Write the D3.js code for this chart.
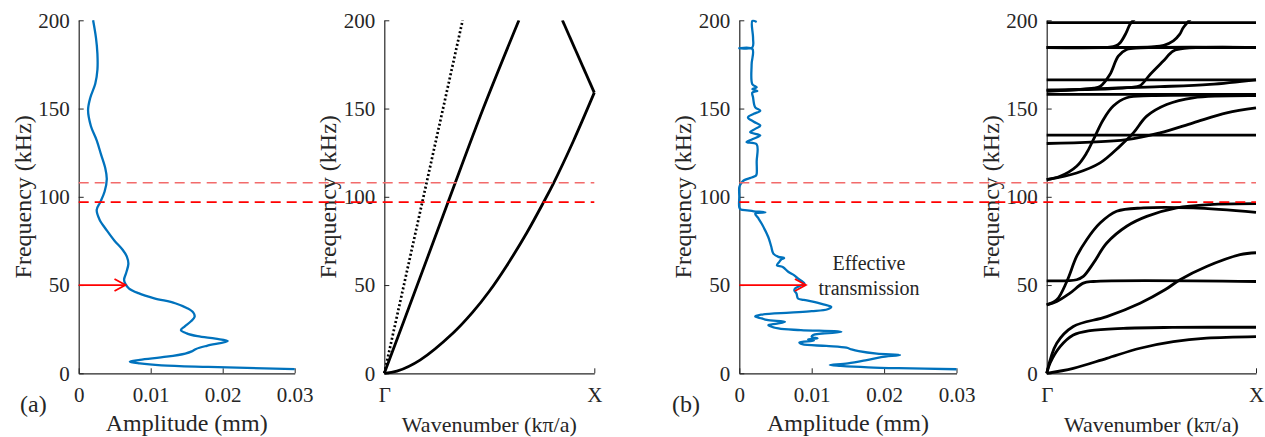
<!DOCTYPE html>
<html lang="en">
<head>
  <meta charset="UTF-8">
  <title>Transmission and band structure</title>
  <script src="https://d3js.org/d3.v7.min.js"></script>
  <style>
    body { margin: 0; background: #fff; }
    svg { display: block; }
    svg text { font-family: "Liberation Serif", "Times New Roman", serif !important; fill: #262626; }
    .domain, .tick line { stroke: #262626; }
  </style>
</head>
<body>
  <svg width="1265" height="437"></svg>

  <script>
    // ---- data ----
    const freqTicks = [0, 50, 100, 150, 200];
    const ampTicks = [0, 0.01, 0.02, 0.03];
    const kTicks = [0, 1];
    const kLabels = ["Γ", "X"];
    const gapEdges = [97, 108];           // band gap limits (kHz)
    const arrowFreq = 50;
    const arrowAmpA = 0.0065;
    const arrowAmpB = 0.0092;

    // (a) amplitude of the homogeneous plate: [freq kHz, amp mm]
    const ampA = [
      [2.4, 0.030], [3.6, 0.018], [4.5, 0.0115], [5.6, 0.0085], [6.6, 0.0071], [7.6, 0.0085],
      [9.4, 0.0122], [11.2, 0.0148], [12.4, 0.0157], [13.8, 0.0163], [15.6, 0.0178],
      [18.3, 0.0207], [19.6, 0.0190], [21.0, 0.0165], [22.6, 0.0150], [24.5, 0.0142],
      [26.5, 0.0147], [29.5, 0.0156], [32, 0.0161], [34.5, 0.0159], [37, 0.0150],
      [39.7, 0.0134], [42.5, 0.0105], [45.4, 0.0083], [48, 0.0070], [50.5, 0.0065],
      [53, 0.0063], [57, 0.0066], [62, 0.0069], [66, 0.0067], [70, 0.0061], [75, 0.0050],
      [81, 0.0039], [87, 0.0029], [92.6, 0.0025], [97, 0.0030], [103, 0.0036],
      [110, 0.0039], [116, 0.0037], [124, 0.0031], [132, 0.0025], [140, 0.0017],
      [149, 0.0013], [156, 0.0016], [164, 0.0023], [172, 0.0026], [181, 0.0026],
      [190, 0.0024], [200, 0.0020]
    ];

    // (b) amplitude of the metamaterial plate: [freq kHz, amp mm]
    const ampB = [
      [2.3, 0.030], [2.9, 0.0220], [3.4, 0.0178], [4.2, 0.0140], [4.7, 0.0125], [5.6, 0.0150],
      [7.5, 0.0176], [9.2, 0.0196], [10.4, 0.0222], [11.1, 0.0190], [12.5, 0.0165],
      [13.5, 0.0155], [14.5, 0.0148], [15.5, 0.0120], [16.5, 0.0087], [17.5, 0.0083],
      [18.5, 0.0103], [19.3, 0.0095], [19.8, 0.0108], [20.6, 0.0100], [21.7, 0.0102],
      [23.5, 0.0141], [24.5, 0.0085], [25.4, 0.0054], [27.3, 0.0040], [28.2, 0.0052],
      [29.2, 0.0063], [30.2, 0.0038], [31.1, 0.0031], [32.2, 0.0022], [33.2, 0.0030],
      [34.4, 0.0070], [35.2, 0.0100], [36.3, 0.0122], [37.6, 0.0127], [39, 0.0116],
      [40.5, 0.0103], [41.6, 0.0089], [42.4, 0.0081], [45.2, 0.0079], [47, 0.0076],
      [48, 0.0077], [49.2, 0.0082], [50.8, 0.0090], [52.3, 0.0086], [53.7, 0.0081],
      [55.5, 0.0076], [57.4, 0.0068], [60.2, 0.0060], [61.2, 0.0052], [63, 0.0055],
      [64.5, 0.0058], [65.3, 0.0062], [66, 0.0054], [67.8, 0.0047], [72, 0.0044],
      [77.2, 0.0040], [84.7, 0.0031], [88, 0.0026], [90.4, 0.0022], [91.2, 0.0036],
      [91.8, 0.0020], [92.3, 0.0011], [92.8, 0.0002], [94, 0.0], [100, 0.0], [105.4, 0.0],
      [107.3, 0.0002], [109.2, 0.0006], [110.8, 0.0016], [112, 0.0023], [113, 0.0024],
      [120, 0.0024], [129.7, 0.0024], [131, 0.0010], [132.6, 0.0018], [134.8, 0.0029],
      [136.6, 0.0015], [138.5, 0.0022], [140.3, 0.0029], [142.5, 0.0020], [145, 0.0012],
      [147, 0.0020], [148.8, 0.0029], [150.7, 0.0022], [156.3, 0.0019], [159, 0.0018],
      [160, 0.0025], [161, 0.0018], [162, 0.0024], [163.8, 0.0018], [175, 0.0017],
      [183.8, 0.0018], [184.2, 0.0], [184.6, 0.0018], [190, 0.0019], [199.6, 0.0018],
      [199.0, 0.0024]
    ];

    // (a) dispersion curves of the plain plate: [k (Γ=0, X=1), freq kHz]
    const bandsA = [
      [[0, 0], [0.154, 49], [0.31, 99], [0.471, 150], [0.641, 200]],
      [[0, 0], [0.06, 1.2], [0.17, 7.5], [0.329, 23], [0.42, 34.5], [0.5, 46.5], [0.583, 61],
       [0.678, 79.5], [0.761, 97.5], [0.805, 107.5], [0.9, 131.5], [1, 159]],
      [[1, 159], [0.848, 200]]
    ];
    const dottedA = [[0, 0], [0.373, 200]];

    // (b) dispersion curves of the metamaterial unit cell
    const bandsB = [
      [[0, 0], [0.127, 2.8], [0.287, 8.5], [0.446, 14.2], [0.605, 17.9], [0.764, 19.9], [1, 20.8]],
      [[0, 0], [0.016, 5.7], [0.064, 15.1], [0.127, 21.7], [0.207, 24.2], [0.366, 25.5], [0.6, 26], [1, 26.1]],
      [[0, 0], [0.048, 17], [0.127, 26.5], [0.287, 32.1], [0.446, 39.7], [0.565, 47.3], [0.637, 53],
       [0.764, 60.5], [0.924, 67.2], [1, 68.3]],
      [[0, 38.8], [0.048, 41.6], [0.096, 52], [0.143, 66.2], [0.191, 75.7], [0.255, 85.1],
       [0.334, 91.8], [0.462, 93.7], [0.7, 93.7], [1, 91.2]],
      [[0, 38.8], [0.048, 40.7], [0.111, 45.4], [0.175, 51.1], [0.223, 52], [1, 52]],
      [[0, 52.4], [0.143, 53], [0.175, 54.9], [0.223, 62.4], [0.287, 73.8], [0.382, 83.3],
       [0.478, 88.9], [0.621, 93.7], [0.78, 95.6], [1, 96.1]],
      [[0, 109.7], [0.064, 111.6], [0.143, 117.3], [0.191, 124.9], [0.223, 132.4], [0.271, 143.8],
       [0.318, 151.4], [0.382, 156.1], [0.5, 157.3], [1, 157.5]],
      [[0, 109.7], [0.143, 113.5], [0.255, 119.2], [0.35, 128.7], [0.414, 136.2], [0.478, 145.7],
       [0.573, 152.3], [0.7, 156.1], [1, 157.3]],
      [[0, 130.2], [0.382, 132.4], [0.541, 136.2], [0.7, 141.9], [0.86, 147.6], [1, 150.4]],
      [[0, 135], [1, 135]],
      [[0, 158], [1, 158]],
      [[0, 159.8], [0.223, 161.2], [0.541, 162.4], [0.78, 163.7], [1, 166.3]],
      [[0, 160.4], [0.15, 160.8], [0.225, 161.5], [0.255, 162.5], [0.302, 169.3], [0.342, 179.7],
       [0.382, 183.5], [0.45, 184.4], [1, 184.6]],
      [[0, 160.4], [0.3, 161.2], [0.4, 162], [0.446, 163], [0.494, 169.3], [0.557, 176.9],
       [0.605, 182.6], [0.669, 184.2], [1, 184.6]],
      [[0, 166.3], [1, 166.3]],
      [[0, 184.6], [1, 184.6]],
      [[0, 184.6], [0.3, 184.8], [0.33, 185.5], [0.351, 187.3], [0.38, 193], [0.398, 197.7], [0.422, 201]],
      [[0, 184.6], [0.5, 185], [0.56, 185.8], [0.605, 188.3], [0.635, 192], [0.653, 195.9], [0.693, 201.5]],
      [[0, 198.7], [1, 198.7]]
    ];

    // ---- layout ----
    const svg = d3.select("svg");
    const yTop = 20.3, yBot = 373.3;
    const y = d3.scaleLinear().domain([0, 200]).range([yBot, yTop]);

    const xA = d3.scaleLinear().domain([0, 0.03]).range([78.7, 294.7]);
    const kA = d3.scaleLinear().domain([0, 1]).range([384.3, 594.3]);
    const xB = d3.scaleLinear().domain([0, 0.03]).range([739.3, 956.5]);
    const kB = d3.scaleLinear().domain([0, 1]).range([1046.7, 1256]);

    const blue = "#0072BD";
    const red = "#ff0000";

    // clip for dispersion panels
    const defs = svg.append("defs");
    [["clipA", kA], ["clipB", kB]].forEach(([id, sc]) => {
      defs.append("clipPath").attr("id", id)
        .append("rect")
        .attr("x", sc.range()[0] - 2).attr("y", yTop)
        .attr("width", sc.range()[1] - sc.range()[0] + 6)
        .attr("height", yBot - yTop + 2);
    });

    function drawAxes(x, tickVals, tickFmt, small) {
      const g = svg.append("g");
      g.append("g")
        .attr("transform", `translate(${x.range()[0]},0)`)
        .call(d3.axisLeft(y).tickValues(freqTicks).tickSizeInner(-5).tickSizeOuter(0).tickPadding(9))
        .call(s => s.selectAll("text").style("font-size", "21px"));
      g.append("g")
        .attr("transform", `translate(0,${yBot})`)
        .call(d3.axisBottom(x).tickValues(tickVals).tickFormat(tickFmt)
          .tickSizeInner(-5).tickSizeOuter(0).tickPadding(14))
        .call(s => s.selectAll("text").style("font-size", "21px"));
      g.selectAll(".domain").attr("stroke-width", 1.2);

      const x0 = x.range()[0], xm = (x.range()[0] + x.range()[1]) / 2;
      g.append("text")
        .attr("transform", `translate(${x0 - 48},${(yTop + yBot) / 2}) rotate(-90)`)
        .attr("text-anchor", "middle")
        .style("font-size", "24px")
        .text("Frequency (kHz)");
      g.append("text")
        .attr("x", xm).attr("y", small ? 432 : 431)
        .attr("text-anchor", "middle")
        .style("font-size", small ? "22px" : "24px")
        .text(small ? "Wavenumber (kπ/a)" : "Amplitude (mm)");
    }

    const ampFmt = d => d === 0 ? "0" : d3.format(".2f")(d);
    const kFmt = (d, i) => kLabels[i];

    drawAxes(xA, ampTicks, ampFmt, false);
    drawAxes(kA, kTicks, kFmt, true);
    drawAxes(xB, ampTicks, ampFmt, false);
    drawAxes(kB, kTicks, kFmt, true);

    // panel letters
    svg.append("text").attr("x", 20).attr("y", 412).style("font-size", "24px").text("(a)");
    svg.append("text").attr("x", 672).attr("y", 412).style("font-size", "24px").text("(b)");

    // amplitude curves
    const ampLine = x => d3.line().x(d => x(d[1])).y(d => y(d[0])).curve(d3.curveCatmullRom.alpha(0.5));
    svg.append("path").datum(ampA)
      .attr("d", ampLine(xA)).attr("fill", "none")
      .attr("stroke", blue).attr("stroke-width", 2.3);
    svg.append("path").datum(ampB)
      .attr("d", ampLine(xB)).attr("fill", "none")
      .attr("stroke", blue).attr("stroke-width", 2.3).attr("stroke-linejoin", "round");

    // dispersion curves
    const bandLine = k => d3.line().x(d => k(d[0])).y(d => y(d[1])).curve(d3.curveCatmullRom.alpha(0.5));
    const gA = svg.append("g").attr("clip-path", "url(#clipA)");
    gA.selectAll("path.band").data(bandsA).join("path")
      .attr("class", "band")
      .attr("d", bandLine(kA)).attr("fill", "none")
      .attr("stroke", "#000").attr("stroke-width", 2.8);
    gA.append("path").datum(dottedA)
      .attr("d", d3.line().x(d => kA(d[0])).y(d => y(d[1])))
      .attr("fill", "none").attr("stroke", "#000")
      .attr("stroke-width", 2.7).attr("stroke-dasharray", "2,2.3");

    const gB = svg.append("g").attr("clip-path", "url(#clipB)");
    gB.selectAll("path.band").data(bandsB).join("path")
      .attr("class", "band")
      .attr("d", bandLine(kB)).attr("fill", "none")
      .attr("stroke", "#000").attr("stroke-width", 2.8);

    // band gap dashed lines across each pair of panels
    [[xA, kA], [xB, kB]].forEach(([left, right]) => {
      gapEdges.forEach((f, i) => {
        svg.append("line")
          .attr("x1", left(0)).attr("x2", right(1))
          .attr("y1", y(f)).attr("y2", y(f))
          .attr("stroke", i === 1 ? "#f26b6b" : red)
          .attr("stroke-width", 1.6)
          .attr("stroke-dasharray", "10,6");
      });
    });

    // arrows at the effective transmission frequency
    function arrow(x, amp) {
      const x0 = x(0), x1 = x(amp), yy = y(arrowFreq);
      const g = svg.append("g").attr("stroke", red).attr("stroke-width", 1.8).attr("fill", "none");
      g.append("line").attr("x1", x0).attr("x2", x1).attr("y1", yy).attr("y2", yy);
      g.append("polyline").attr("points", `${x1 - 11},${yy - 6} ${x1},${yy} ${x1 - 11},${yy + 6}`);
    }
    arrow(xA, arrowAmpA);
    arrow(xB, arrowAmpB);

    svg.append("text").attr("x", 869).attr("y", 270)
      .attr("text-anchor", "middle").style("font-size", "20px")
      .text("Effective");
    svg.append("text").attr("x", 869).attr("y", 295)
      .attr("text-anchor", "middle").style("font-size", "20px")
      .text("transmission");
  </script>
</body>
</html>
